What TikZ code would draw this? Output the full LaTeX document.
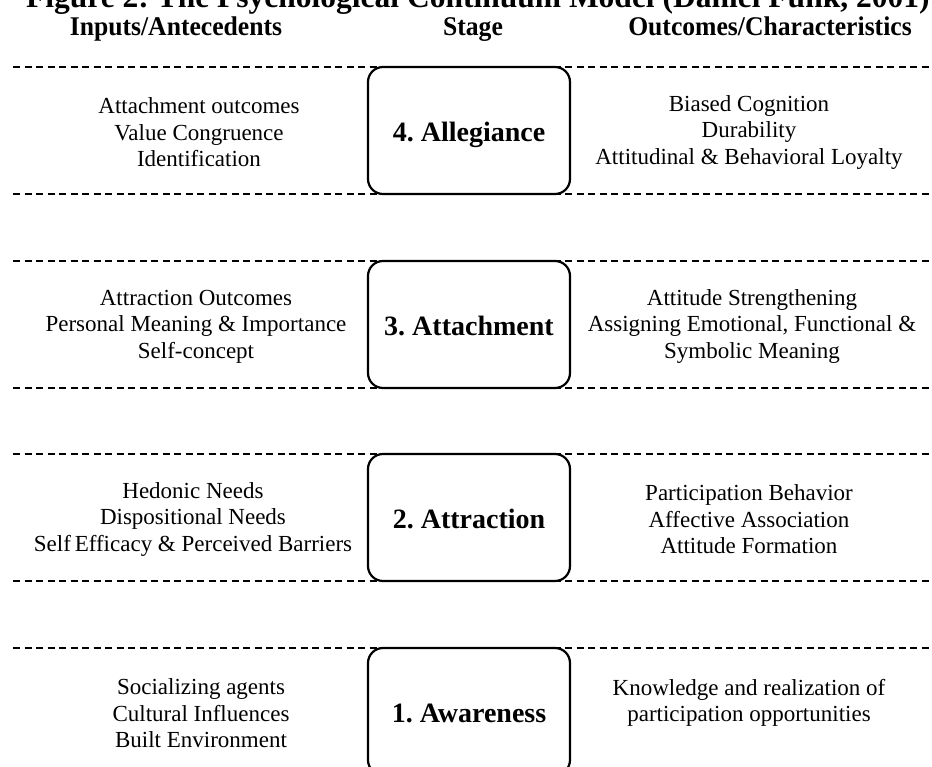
\documentclass[tikz,border=0pt]{standalone}
\usepackage{fontspec}
\setmainfont{Liberation Serif}
\newfontfamily\headfont[FakeStretch=0.95]{Liberation Serif}
\usepackage{tikz}

\tikzset{
  sepline/.style={line width=1.3pt, dash pattern=on 7pt off 4.5pt},
  stagebox/.style={draw, line width=2.2pt, rounded corners=15pt, fill=white,
    minimum width=202pt, minimum height=127pt, inner sep=0pt,
    text height=21.6pt, text depth=0pt,
    font=\bfseries\fontsize{28}{30}\selectfont},
  cell/.style={align=center, inner sep=0pt,
    font=\fontsize{23}{26.5}\selectfont},
  colhead/.style={anchor=base, inner sep=0pt,
    font=\headfont\bfseries\fontsize{27}{28}\selectfont}
}

\begin{document}
\frenchspacing
\begin{tikzpicture}[x=1pt, y=-1pt]
\useasboundingbox (0,0) rectangle (932,767);
\clip (0,0) rectangle (932,767);

% title (cut at the top of the page)
\node[anchor=base west, inner sep=0pt, font=\bfseries\fontsize{31.5}{32}\selectfont] (title) at (26,8)
  {Figure 2: The Psychological Continuum Model (Daniel Funk, 2001)};

\node[colhead] (hin)  at (176,36) {Inputs/Antecedents};
\node[colhead] (hst)  at (473,36) {Stage};
\node[colhead] (hout) at (770,36) {Outcomes/Characteristics};

% band borders
\foreach \y in {67,261,454,648}{
  \draw[sepline] (13,\y) -- (932,\y);
  \draw[sepline] (13,\y+127) -- (932,\y+127);
}

% stages
\node[stagebox] (allegiance) at (469,130.5) {4. Allegiance};
\node[stagebox] (attachment) at (469,324.5) {3. Attachment};
\node[stagebox] (attraction) at (469,517.5) {2. Attraction};
\node[stagebox] (awareness)  at (469,711.5) {1. Awareness};

% inputs
\node[cell] (in4) at (199,132.5) {Attachment outcomes\\Value Congruence\\Identification};
\node[cell] (in3) at (196,326.5) {Attraction Outcomes\\Personal Meaning \& Importance\\Self-concept};
\node[cell] (in2) at (193,519.5) {Hedonic Needs\\Dispositional Needs\\Self\,Efficacy \& Perceived Barriers};
\node[cell] (in1) at (201,713.5) {Socializing agents\\Cultural Influences\\Built Environment};

% outcomes
\node[cell] (out4) at (749,132.5) {Biased Cognition\\Durability\\Attitudinal \& Behavioral Loyalty};
\node[cell] (out3) at (752,326.5) {Attitude Strengthening\\Assigning Emotional, Functional \&\\Symbolic Meaning};
\node[cell] (out2) at (749,519.5) {Participation Behavior\\Affective Association\\Attitude Formation};
\node[cell, anchor=north] (out1) at (in1.north -| out2) {Knowledge and realization of\\participation opportunities};
\end{tikzpicture}
\end{document}
